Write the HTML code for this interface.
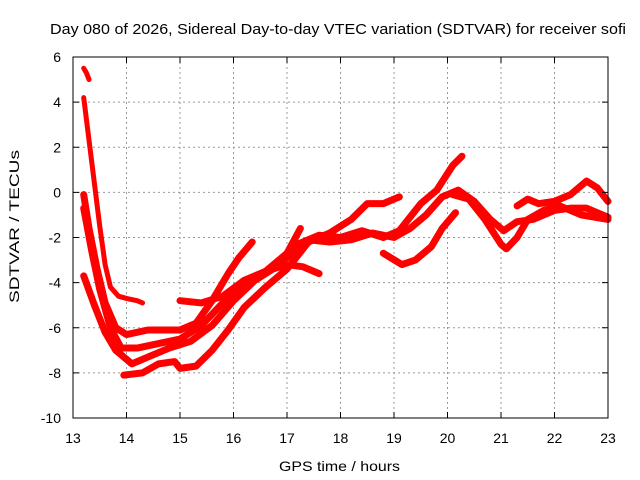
<!DOCTYPE html>
<html><head><meta charset="utf-8"><style>
body{margin:0;background:#fff}
svg{display:block;font-family:"Liberation Sans",sans-serif}
</style></head><body>
<svg id="chart" width="640" height="480">
<text x="50" y="34" font-size="15" textLength="576" lengthAdjust="spacingAndGlyphs">Day 080 of 2026, Sidereal Day-to-day VTEC variation (SDTVAR) for receiver sofi</text>
<text x="279" y="471" font-size="14" textLength="121" lengthAdjust="spacingAndGlyphs">GPS time / hours</text>
<text transform="translate(19,303) rotate(-90)" font-size="14" textLength="153" lengthAdjust="spacingAndGlyphs">SDTVAR / TECUs</text>
<g id="grid"></g>
<g id="marks"></g>
<rect x="73" y="57" width="535" height="361" fill="none" stroke="#000" stroke-width="1"/>
<g id="ticks"></g>
</svg>
<script>
const xTicks=[13,14,15,16,17,18,19,20,21,22,23];
const yTicks=[-10,-8,-6,-4,-2,0,2,4,6];
const s1=[[13.2,5.5],[13.25,5.3],[13.3,5.0]];
const s2=[[13.2,4.2],[13.3,2.3],[13.4,0.4],[13.5,-1.5],[13.6,-3.2],[13.7,-4.2],[13.85,-4.6],[14.0,-4.7],[14.2,-4.8],[14.3,-4.9]];
const s3=[[13.2,-0.1],[13.3,-1.6],[13.45,-3.4],[13.6,-4.9],[13.8,-6.0],[14.0,-6.3],[14.4,-6.1],[15.0,-6.1],[15.3,-5.8],[15.6,-4.8],[15.9,-3.6],[16.1,-2.9],[16.35,-2.2]];
const s4=[[13.2,-0.7],[13.35,-2.6],[13.5,-4.3],[13.7,-6.0],[13.9,-6.9],[14.2,-6.9],[14.6,-6.7],[15.0,-6.5],[15.4,-5.9],[15.8,-4.9],[16.2,-4.0],[16.6,-3.5],[17.0,-2.7],[17.25,-1.6]];
const s5=[[13.2,-3.7],[13.4,-5.0],[13.6,-6.2],[13.8,-7.0],[14.1,-7.6],[14.4,-7.3],[14.8,-6.9],[15.2,-6.6],[15.6,-5.9],[16.0,-4.8],[16.4,-3.9],[16.8,-3.3],[17.2,-2.3],[17.6,-1.9],[18.0,-2.0],[18.4,-1.7],[18.8,-2.0],[19.1,-1.7],[19.5,-0.5],[19.8,0.1],[20.1,1.2],[20.27,1.6]];
const s6=[[13.95,-8.1],[14.3,-8.0],[14.6,-7.6],[14.9,-7.5],[15.0,-7.8],[15.3,-7.7],[15.6,-7.0],[15.9,-6.1],[16.2,-5.1],[16.6,-4.2],[17.0,-3.4],[17.4,-2.2],[17.8,-1.8],[18.2,-1.2],[18.5,-0.5],[18.8,-0.5],[19.1,-0.2]];
const s7=[[15.0,-4.8],[15.4,-4.9],[15.8,-4.6],[16.2,-3.9],[16.6,-3.5],[17.0,-3.2],[17.3,-3.3],[17.6,-3.6]];
const s8=[[17.0,-2.9],[17.4,-2.1],[17.8,-2.2],[18.2,-2.1],[18.6,-1.8],[19.0,-2.0],[19.3,-1.6],[19.6,-1.0],[19.9,-0.2],[20.2,0.1],[20.5,-0.4],[20.8,-1.2],[21.05,-1.7],[21.3,-1.3],[21.6,-1.2],[22.0,-0.8],[22.3,-0.7],[22.6,-0.7],[23,-1.1]];
const s9=[[18.8,-2.7],[19.15,-3.2],[19.4,-3.0],[19.7,-2.4],[19.9,-1.6],[20.15,-0.9]];
const s10=[[20.1,-0.1],[20.4,-0.3],[20.7,-1.2],[21.0,-2.3],[21.1,-2.5],[21.3,-2.0],[21.5,-1.2],[21.8,-0.8],[22.1,-0.6],[22.5,-1.0],[23,-1.2]];
const s11=[[21.3,-0.6],[21.5,-0.3],[21.7,-0.5],[22.0,-0.4],[22.3,-0.1],[22.6,0.5],[22.8,0.2],[23.0,-0.4]];
const series=[s1,s2,s3,s4,s5,s6,s7,s8,s9,s10,s11];
const X0=73,X1=608,Y0=418,Y1=57;
function xs(h){return X0+(h-13)/(23-13)*(X1-X0);}
function ys(v){return Y0-(v+10)/16*(Y0-Y1);}
const NS='http://www.w3.org/2000/svg';
const grid=document.getElementById('grid'),ticks=document.getElementById('ticks'),marks=document.getElementById('marks');
function mk(tag,attrs,parent){const e=document.createElementNS(NS,tag);for(const k in attrs)e.setAttribute(k,attrs[k]);parent.appendChild(e);return e;}
xTicks.forEach(t=>{const x=xs(t);
 if(t>13&&t<23){const g=mk('line',{x1:x,x2:x,y1:Y1,y2:Y0,stroke:'#999','stroke-dasharray':'2,3'},grid);
 
 }
 const a=mk('line',{x1:x,x2:x,y1:Y0,y2:Y0-6,stroke:'#000'},ticks);
 
 
 const b=mk('line',{x1:x,x2:x,y1:Y1,y2:Y1+6,stroke:'#000'},ticks);
 
 
 const l=mk('text',{x:x,y:443,'text-anchor':'middle','font-size':'14'},ticks);l.textContent=t;
 
 });
yTicks.forEach(t=>{const y=ys(t);
 if(t>-10&&t<6){const g=mk('line',{x1:X0,x2:X1,y1:y,y2:y,stroke:'#999','stroke-dasharray':'2,3'},grid);
 
 }
 const a=mk('line',{x1:X0,x2:X0+6,y1:y,y2:y,stroke:'#000'},ticks);
 
 
 const b=mk('line',{x1:X1,x2:X1-6,y1:y,y2:y,stroke:'#000'},ticks);
 
 
 const l=mk('text',{x:61,y:y+5,'text-anchor':'end','font-size':'14'},ticks);l.textContent=t;
 
 });
series.forEach((s,i)=>{
 const p=mk('polyline',{points:s.map(d=>xs(d[0])+','+ys(d[1])).join(' '),fill:'none',stroke:'#f00','stroke-width':(i<2?'5':'7'),'stroke-linejoin':'round','stroke-linecap':'round'},marks);
 
 
});
</script>
</body></html>
